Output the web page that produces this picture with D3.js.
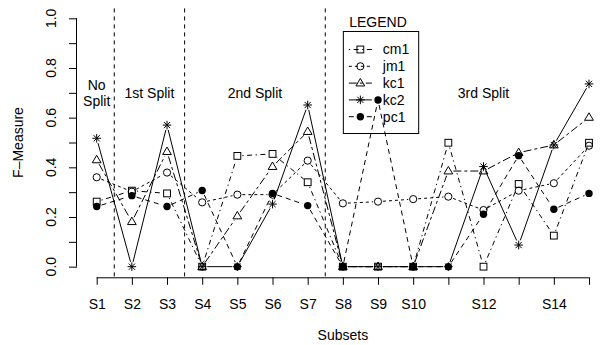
<!DOCTYPE html>
<html>
<head>
<meta charset="utf-8">
<script src="https://cdn.jsdelivr.net/npm/d3@7"></script>
<style>
  html, body { margin: 0; padding: 0; background: #fff; }
  svg text { font-family: "Liberation Sans", Arial, Helvetica, sans-serif; fill: #000; }
</style>
</head>
<body>
<svg id="chart" width="600" height="345"></svg>
<script>
// ---------- data ----------
const categories = ["S1","S2","S3","S4","S5","S6","S7","S8","S9","S10","S11","S12","S13","S14","S15"];
const tickLabels = ["S1","S2","S3","S4","S5","S6","S7","S8","S9","S10","","S12","","S14",""];
const yTicks = [0, 0.2, 0.4, 0.6, 0.8, 1.0];
const yMinorTicks = [0.1, 0.3, 0.5, 0.7, 0.9];
const seriesNames = ["cm1","jm1","kc1","kc2","pc1"];
const cm1 = [0.262,0.306,0.295,0,0.446,0.454,0.340,0,0,0,0.499,0,0.333,0.125,0.499];
const jm1 = [0.360,0.302,0.379,0.259,0.290,0.290,0.427,0.255,0.262,0.272,0.282,0.228,0.306,0.336,0.487];
const kc1 = [0.430,0.181,0.463,0,0.204,0.403,0.544,0,0,0,0.385,0.385,0.459,0.490,0.601];
const kc2 = [0.517,0,0.570,0,0,0.252,0.651,0,0,0,0,0.403,0.087,0.490,0.736];
const pc1 = [0.242,0.286,0.242,0.307,0,0.295,0.246,0,0.671,0,0,0.211,0.447,0.231,0.295];
const splitPositions = [1.5, 3.5, 7.5];
const splitLabels = [
  {x: 1, y: 0.70, lines: ["No","Split"]},
  {x: 2.5, y: 0.70, lines: ["1st Split"]},
  {x: 5.5, y: 0.70, lines: ["2nd Split"]},
  {x: 12, y: 0.70, lines: ["3rd Split"]}
];

// ---------- layout ----------
const svg = d3.select("#chart");
const plotLeft = 77, plotRight = 608.7, plotTop = 8.4, plotBottom = 276.6;
const x = d3.scaleLinear().domain([1 - 0.56, 15 + 0.56]).range([plotLeft, plotRight]);
const y = d3.scaleLinear().domain([-0.04, 1.04]).range([plotBottom, plotTop]);

const styles = {
  cm1: {dash: "1.3,3.5,5,3.5", sym: "square"},
  jm1: {dash: "3,3", sym: "circle"},
  kc1: {dash: "8,3,3,3", sym: "triangle"},
  kc2: {dash: null, sym: "asterisk"},
  pc1: {dash: "5,4", sym: "dot"}
};
const data = {cm1, jm1, kc1, kc2, pc1};

function drawSymbol(g, type, cx, cy) {
  const s = g.append("g").attr("transform", `translate(${cx},${cy})`);
  if (type === "square") {
    s.append("rect").attr("x", -3.4).attr("y", -3.4).attr("width", 6.8).attr("height", 6.8)
      .attr("fill", "none").attr("stroke", "#000").attr("stroke-width", 1);
  } else if (type === "circle") {
    s.append("circle").attr("r", 3.6).attr("fill", "none").attr("stroke", "#000").attr("stroke-width", 1);
  } else if (type === "triangle") {
    const r = 4.6;
    s.append("path").attr("d", `M0,${-r} L${r*0.95},${r*0.62} L${-r*0.95},${r*0.62} Z`)
      .attr("fill", "none").attr("stroke", "#000").attr("stroke-width", 1);
  } else if (type === "asterisk") {
    const r = 4.3, d = 3.1;
    s.append("path").attr("d", `M${-r},0 L${r},0 M0,${-r} L0,${r} M${-d},${-d} L${d},${d} M${-d},${d} L${d},${-d}`)
      .attr("stroke", "#000").attr("stroke-width", 1).attr("fill", "none");
  } else if (type === "dot") {
    s.append("circle").attr("r", 3.7).attr("fill", "#000");
  }
}

// ---------- split lines ----------
svg.append("g").selectAll("line").data(splitPositions).join("line")
  .attr("x1", d => x(d)).attr("x2", d => x(d))
  .attr("y1", plotTop).attr("y2", plotBottom)
  .attr("stroke", "#000").attr("stroke-width", 1).attr("stroke-dasharray", "4,4");

// ---------- series (type "b": lines with gaps) ----------
const gap = 5;
seriesNames.forEach(name => {
  const vals = data[name];
  const st = styles[name];
  const g = svg.append("g");
  for (let i = 0; i < vals.length - 1; i++) {
    const x1 = x(i + 1), y1 = y(vals[i]), x2 = x(i + 2), y2 = y(vals[i + 1]);
    const dx = x2 - x1, dy = y2 - y1, len = Math.hypot(dx, dy);
    if (len <= 2 * gap) continue;
    const ux = dx / len, uy = dy / len;
    const ln = g.append("line")
      .attr("x1", x1 + ux * gap).attr("y1", y1 + uy * gap)
      .attr("x2", x2 - ux * gap).attr("y2", y2 - uy * gap)
      .attr("stroke", "#000").attr("stroke-width", 1);
    if (st.dash) ln.attr("stroke-dasharray", st.dash);
  }
  vals.forEach((v, i) => drawSymbol(g, st.sym, x(i + 1), y(v)));
});

// ---------- axes ----------
const xAxis = d3.axisBottom(x)
  .tickValues(d3.range(1, 16))
  .tickFormat((d, i) => tickLabels[i])
  .tickSize(7.5).tickPadding(14);
const gx = svg.append("g").attr("transform", `translate(0,${plotBottom + 0.7})`).call(xAxis);
gx.select(".domain").attr("d", `M${x(1)},0.5H${x(15)}`).attr("stroke", "#000");
gx.selectAll(".tick line").attr("stroke", "#000");
gx.selectAll("text").attr("font-size", 14).attr("font-family", "Liberation Sans, Arial, sans-serif").attr("fill", "#000");

const gy = svg.append("g").attr("transform", `translate(${plotLeft},0)`)
  .call(d3.axisLeft(y).tickValues(yTicks.concat(yMinorTicks).sort()).tickFormat(() => "").tickSize(8));
gy.select(".domain").attr("d", `M-0.5,${y(0)}V${y(1)}`).attr("stroke", "#000");
gy.selectAll(".tick line").attr("stroke", "#000");

svg.append("g").selectAll("text").data(yTicks).join("text")
  .attr("transform", d => `translate(56,${y(d)}) rotate(-90)`)
  .attr("text-anchor", "middle")
  .attr("font-size", 14)
  .text(d => d.toFixed(1));

// axis titles
svg.append("text").attr("x", (plotLeft + plotRight) / 2).attr("y", 340)
  .attr("text-anchor", "middle").attr("font-size", 14).text("Subsets");
svg.append("text").attr("transform", `translate(23,${(plotTop + plotBottom) / 2}) rotate(-90)`)
  .attr("text-anchor", "middle").attr("font-size", 14).text("F\u2013Measure");

// ---------- split labels ----------
splitLabels.forEach(l => {
  const n = l.lines.length;
  l.lines.forEach((t, k) => {
    svg.append("text")
      .attr("x", x(l.x))
      .attr("y", y(l.y) + (k - (n - 1) / 2) * 16)
      .attr("dy", "0.35em")
      .attr("text-anchor", "middle").attr("font-size", 14).text(t);
  });
});

// ---------- legend ----------
const lgLeft = x(8), lgRight = x(10) + 5;
const lg = {top: 31, bottom: 133, row0: 49.5, step: 16.8};
svg.append("text").attr("x", (lgLeft + lgRight) / 2 - 2.5).attr("y", 27)
  .attr("text-anchor", "middle").attr("font-size", 14).text("LEGEND");
svg.append("rect").attr("x", lgLeft + 0.5).attr("y", lg.top + 0.5)
  .attr("width", lgRight - lgLeft).attr("height", lg.bottom - lg.top)
  .attr("fill", "none").attr("stroke", "#000").attr("stroke-width", 1);
seriesNames.forEach((name, i) => {
  const cy = lg.row0 + i * lg.step;
  const st = styles[name];
  const g = svg.append("g");
  const ln = g.append("line").attr("x1", lgLeft + 6).attr("x2", lgLeft + 29)
    .attr("y1", cy).attr("y2", cy).attr("stroke", "#000").attr("stroke-width", 1);
  if (st.dash) ln.attr("stroke-dasharray", st.dash);
  drawSymbol(g, st.sym, lgLeft + 17.5, cy);
  g.append("text").attr("x", lgLeft + 40).attr("y", cy).attr("dy", "0.35em")
    .attr("font-size", 14).text(name);
});
</script>
</body>
</html>
